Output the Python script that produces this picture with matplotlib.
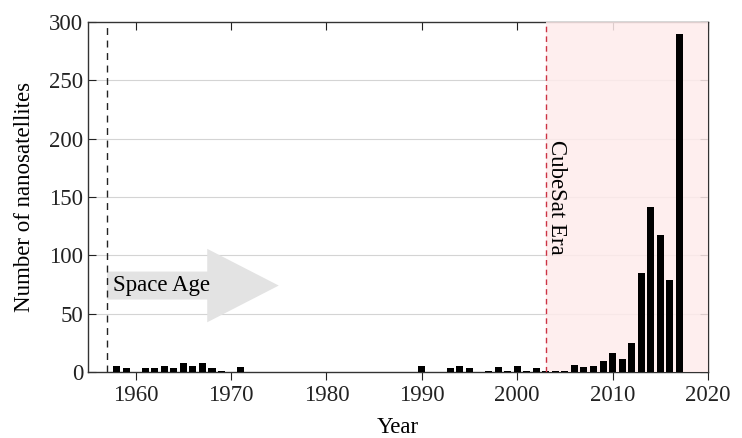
import numpy as np, matplotlib; matplotlib.use("Agg")
import matplotlib.pyplot as plt
from matplotlib.patches import FancyArrow

years = [1958, 1959, 1961, 1962, 1963, 1964, 1965, 1966, 1967, 1968, 1969, 1971,
         1990, 1993, 1994, 1995, 1997, 1998, 1999, 2000, 2001, 2002, 2003, 2004, 2005,
         2006, 2007, 2008, 2009, 2010, 2011, 2012, 2013, 2014, 2015, 2016, 2017]
counts = [5, 3, 3, 3, 5, 3, 8, 5, 8, 3, 1, 4,
          5, 3, 5, 3, 1, 4, 1, 5, 1, 3, 1, 1, 1,
          6, 4, 5, 9, 16, 11, 25, 85, 141, 117, 79, 290]
xticks = [1960, 1970, 1980, 1990, 2000, 2010, 2020]
yticks = [0, 50, 100, 150, 200, 250, 300]
space_age = 1957; cubesat = 2003
FS = 16.5

plt.rcParams["font.family"] = ["Liberation Serif", "DejaVu Serif"]
fig = plt.figure(figsize=(7.42, 4.38), dpi=100)
ax = fig.add_axes([0.1186, 0.151, 0.8355, 0.7988])
ax.set_xlim(1955, 2020); ax.set_ylim(0, 300)

for y in yticks[1:-1]:
    ax.axhline(y, color="#d4d4d4", lw=0.8, zorder=1)
ax.axvspan(cubesat, 2020, facecolor="#feebeb", alpha=0.85, lw=0, zorder=2.6)
ax.bar(years, counts, width=0.74, color="black", zorder=3)
ax.axvline(space_age, color="#222222", lw=1, ls=(0, (5, 4)), zorder=2.7)
ax.axvline(cubesat, color="#cc3344", lw=1, ls=(0, (4, 3)), zorder=4)

ax.add_patch(FancyArrow(space_age, 74, 18, 0, width=24, head_width=63, head_length=7.5,
                        length_includes_head=True, color="#e3e3e3", lw=0, zorder=2))
ax.text(1957.6, 74, "Space Age", fontsize=FS, va="center", ha="left", zorder=5)
ax.text(2003.05, 199, "CubeSat Era", fontsize=FS, rotation=-90, ha="left", va="top", zorder=5)

ax.set_xticks(xticks); ax.set_yticks(yticks)
ax.tick_params(axis="x", direction="out", length=6, top=True, labelsize=FS, colors="#222222")
for t in ax.xaxis.get_major_ticks():
    t.tick2line.set_marker(matplotlib.lines.TICKDOWN)
ax.tick_params(axis="y", direction="in", length=6, right=True, labelsize=FS, colors="#222222")
for s in ax.spines.values():
    s.set_color("#333333"); s.set_linewidth(1)
ax.set_xlabel("Year", fontsize=FS, labelpad=8)
ax.set_ylabel("Number of nanosatellites", fontsize=FS, labelpad=10)
fig.savefig("out.png", dpi=100)
